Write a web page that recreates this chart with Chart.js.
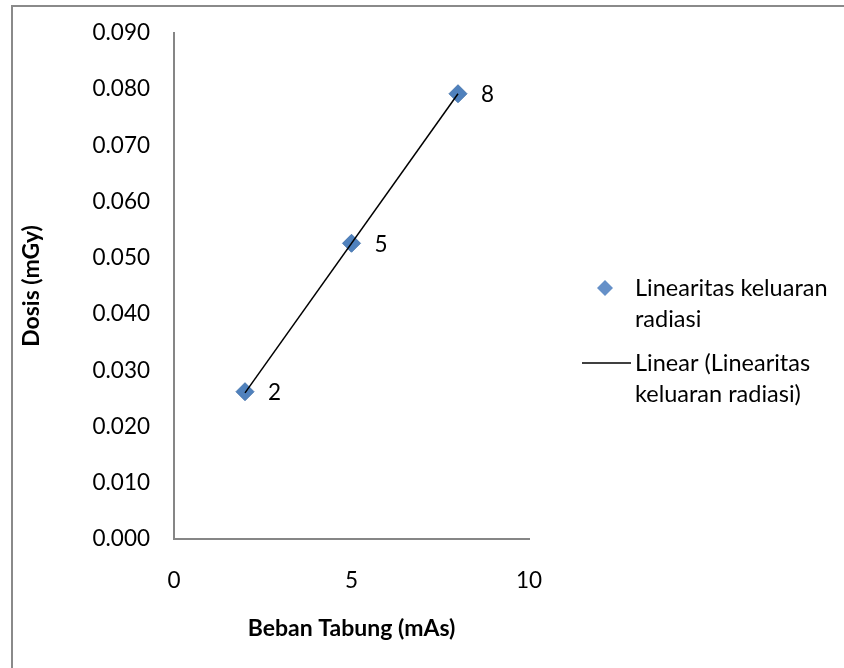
<!DOCTYPE html>
<html>
<head>
<meta charset="utf-8">
<script src="https://cdn.jsdelivr.net/npm/chart.js@4.4.1/dist/chart.umd.min.js"></script>
<style>
  body { margin: 0; background: #fff; }
</style>
</head>
<body>
<canvas id="my-chart" width="844" height="668"></canvas>
<script>
// data
const bebanTabung = [2, 5, 8];                 // mAs
const dosis = [0.0262, 0.0526, 0.0792];        // mGy
const trendX = [2, 8];                         // linear trendline ends
const trendY = [0.0260, 0.0792];
const xTicks = [0, 5, 10];
const yTicks = [0, 0.01, 0.02, 0.03, 0.04, 0.05, 0.06, 0.07, 0.08, 0.09];
const legendLabels = [['Linearitas keluaran', 'radiasi'], ['Linear (Linearitas', 'keluaran radiasi)']];

const fontFamily = 'Lato, "Open Sans", sans-serif';
const blue = '#4f81bd';

// frame around the chart
const framePlugin = {
  id: 'frame',
  beforeDraw(chart) {
    const ctx = chart.ctx;
    ctx.save();
    ctx.fillStyle = '#fff';
    ctx.fillRect(0, 0, chart.width, chart.height);
    ctx.strokeStyle = '#8a8a8a';
    ctx.lineWidth = 2;
    ctx.strokeRect(12, 6, chart.width, chart.height);
    ctx.restore();
  }
};

// x value next to every marker
const pointLabels = {
  id: 'pointLabels',
  afterDatasetsDraw(chart) {
    const ctx = chart.ctx;
    const meta = chart.getDatasetMeta(1);
    ctx.save();
    ctx.font = '22.5px ' + fontFamily;
    ctx.fillStyle = '#000';
    ctx.textAlign = 'left';
    ctx.textBaseline = 'middle';
    meta.data.forEach((pt, i) => {
      ctx.fillText(String(bebanTabung[i]), pt.x + 23, pt.y + 1);
    });
    ctx.restore();
  }
};

// legend with wrapped labels, on the right
const sideLegend = {
  id: 'sideLegend',
  afterDraw(chart) {
    const ctx = chart.ctx;
    const x0 = chart.chartArea.right + 106;
    ctx.save();
    ctx.font = '23.5px ' + fontFamily;
    ctx.fillStyle = '#000';
    ctx.textAlign = 'left';
    ctx.textBaseline = 'middle';
    // marker entry
    let y = 288;
    ctx.fillStyle = '#6590c8';
    ctx.beginPath();
    ctx.moveTo(605, y - 8);
    ctx.lineTo(613, y);
    ctx.lineTo(605, y + 8);
    ctx.lineTo(597, y);
    ctx.closePath();
    ctx.fill();
    ctx.fillStyle = '#000';
    legendLabels[0].forEach((t, i) => ctx.fillText(t, x0, y + i * 31));
    // trendline entry
    y = 363;
    ctx.strokeStyle = '#000';
    ctx.lineWidth = 1.5;
    ctx.beginPath();
    ctx.moveTo(582, y);
    ctx.lineTo(631, y);
    ctx.stroke();
    legendLabels[1].forEach((t, i) => ctx.fillText(t, x0, y + i * 31));
    ctx.restore();
  }
};

const ctx = document.getElementById('my-chart').getContext('2d');

const chart = new Chart(ctx, {
  type: 'scatter',
  data: {
    datasets: [
      {
        type: 'line',
        label: 'Linear (Linearitas keluaran radiasi)',
        data: trendX.map((x, i) => ({ x: x, y: trendY[i] })),
        borderColor: '#000',
        borderWidth: 1.5,
        pointRadius: 0,
        fill: false
      },
      {
        label: 'Linearitas keluaran radiasi',
        data: bebanTabung.map((x, i) => ({ x: x, y: dosis[i] })),
        pointStyle: 'rectRot',
        pointRadius: 9,
        pointHoverRadius: 9,
        backgroundColor: blue,
        borderColor: '#4a78b0',
        borderWidth: 1
      }
    ]
  },
  options: {
    responsive: false,
    animation: false,
    events: [],
    layout: { padding: { left: 0, top: 33, right: 315, bottom: 0 } },
    plugins: {
      legend: { display: false },
      tooltip: { enabled: false }
    },
    scales: {
      x: {
        type: 'linear',
        min: 0,
        max: 10,
        afterFit(scale) { scale.height = 129; },
        afterBuildTicks(scale) { scale.ticks = xTicks.map(v => ({ value: v })); },
        grid: { display: false, drawTicks: false },
        border: { display: true, color: '#868686', width: 2 },
        ticks: {
          padding: 28,
          color: '#000',
          font: { family: fontFamily, size: 22.5 }
        },
        title: {
          display: true,
          text: 'Beban Tabung (mAs)',
          color: '#000',
          font: { family: fontFamily, size: 23, weight: 'bold' },
          padding: { top: 0, bottom: 26 }
        }
      },
      y: {
        type: 'linear',
        min: 0,
        max: 0.09,
        afterFit(scale) {
          scale.width = 174;
          scale.paddingTop = 0;
          scale.paddingBottom = 0;
        },
        afterBuildTicks(scale) { scale.ticks = yTicks.map(v => ({ value: v })); },
        grid: { display: false, drawTicks: false },
        border: { display: true, color: '#868686', width: 2 },
        ticks: {
          padding: 24,
          color: '#000',
          font: { family: fontFamily, size: 22.5 },
          callback: v => v.toFixed(3)
        },
        title: {
          display: true,
          text: 'Dosis (mGy)',
          color: '#000',
          font: { family: fontFamily, size: 23, weight: 'bold' },
          padding: { top: 18, bottom: 0 }
        }
      }
    }
  },
  plugins: [framePlugin, pointLabels, sideLegend]
});
</script>
</body>
</html>
